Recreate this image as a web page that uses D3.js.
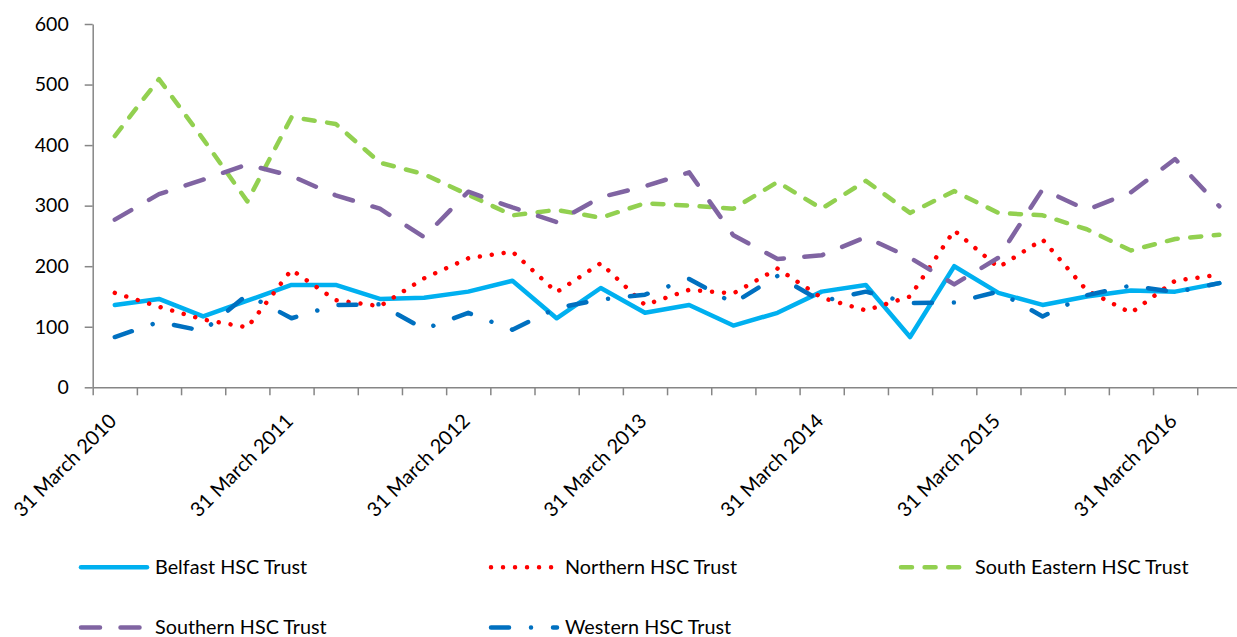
<!DOCTYPE html>
<html>
<head>
<meta charset="utf-8">
<script src="https://cdn.jsdelivr.net/npm/d3@7"></script>
<style>
  body { margin: 0; background: #fff; }
  svg { display: block; font-family: Lato, "Open Sans", sans-serif; }
</style>
</head>
<body>
<svg id="chart" width="1237" height="637"></svg>
<script>
// quarter ends, 31 March 2010 .. 30 June 2016
const categories = [
  "31 March 2010", "30 June 2010", "30 September 2010", "31 December 2010",
  "31 March 2011", "30 June 2011", "30 September 2011", "31 December 2011",
  "31 March 2012", "30 June 2012", "30 September 2012", "31 December 2012",
  "31 March 2013", "30 June 2013", "30 September 2013", "31 December 2013",
  "31 March 2014", "30 June 2014", "30 September 2014", "31 December 2014",
  "31 March 2015", "30 June 2015", "30 September 2015", "31 December 2015",
  "31 March 2016", "30 June 2016"
];
const tickLabels = ["31 March 2010", "31 March 2011", "31 March 2012", "31 March 2013",
  "31 March 2014", "31 March 2015", "31 March 2016"];
const yTicks = [0, 100, 200, 300, 400, 500, 600];

const seriesNames = ["Belfast HSC Trust", "Northern HSC Trust", "South Eastern HSC Trust",
  "Southern HSC Trust", "Western HSC Trust"];
const belfast = [136, 146, 117, 143, 169, 169, 146, 148, 158, 176, 114, 164, 123,
  136, 102, 123, 158, 169, 83, 200, 156, 136, 150, 160, 158, 172];
const northern = [156, 133, 112, 99, 194, 144, 134, 180, 213, 224, 157, 205, 136,
  161, 155, 196, 148, 127, 150, 259, 198, 244, 160, 123, 176, 186];
const southEastern = [415, 509, 410, 307, 446, 435, 371, 352, 318, 284, 293, 280, 304,
  300, 295, 339, 295, 341, 288, 324, 288, 284, 261, 226, 245, 252];
const southern = [277, 319, 343, 368, 349, 317, 295, 248, 323, 297, 273, 314, 332,
  355, 251, 212, 218, 248, 214, 170, 214, 327, 293, 322, 377, 299];
const western = [83, 108, 93, 153, 114, 136, 137, 96, 123, 95, 131, 145, 153,
  179, 139, 184, 142, 158, 139, 140, 158, 117, 152, 168, 157, 172];

const svg = d3.select("#chart");
const plot = { left: 92.7, right: 1241.4, top: 24, bottom: 387.3 };

const x = d3.scaleBand().domain(categories).range([plot.left, plot.right]).padding(0);
const xEdge = d3.scaleLinear().domain([0, categories.length]).range([plot.left, plot.right]);
const y = d3.scaleLinear().domain([0, 600]).range([plot.bottom, plot.top]);

const axisColor = "#868686";

// y axis
const yAxis = svg.append("g")
  .attr("transform", `translate(${plot.left},0)`)
  .call(d3.axisLeft(y).tickValues(yTicks).tickSize(8).tickPadding(16).tickSizeOuter(0));
yAxis.selectAll("path, line").attr("stroke", axisColor).attr("stroke-width", 1.5);
yAxis.selectAll("text").attr("font-size", 19.5).attr("fill", "#000")
  .attr("font-family", "Lato, sans-serif");

// x axis: tick marks between categories
const xAxis = svg.append("g")
  .attr("transform", `translate(0,${plot.bottom})`)
  .call(d3.axisBottom(xEdge).tickValues(d3.range(categories.length + 1))
    .tickFormat("").tickSize(8).tickSizeOuter(0));
xAxis.selectAll("path, line").attr("stroke", axisColor).attr("stroke-width", 1.5);

// rotated category labels
svg.append("g").selectAll("text").data(tickLabels).enter().append("text")
  .attr("transform", d => `translate(${x(d) + x.bandwidth() / 2 + 3},${plot.bottom + 35}) rotate(-45)`)
  .attr("text-anchor", "end")
  .attr("font-size", 20)
  .attr("fill", "#000")
  .text(d => d);

const styles = [
  { color: "#00B0F0", dash: null },
  { color: "#FF0000", dash: "0.01 12" },
  { color: "#92D050", dash: "11 12.6" },
  { color: "#8064A2", dash: "19 20.5" },
  { color: "#0070C0", dash: "18 22 0.01 22" }
];
const allSeries = [belfast, northern, southEastern, southern, western];

const line = d3.line()
  .x((d, i) => x(categories[i]) + x.bandwidth() / 2)
  .y(d => y(d));

svg.append("g").selectAll("path").data(allSeries).enter().append("path")
  .attr("d", line)
  .attr("fill", "none")
  .attr("stroke", (d, i) => styles[i].color)
  .attr("stroke-width", 4.5)
  .attr("stroke-linecap", "round")
  .attr("stroke-linejoin", "round")
  .attr("stroke-dasharray", (d, i) => styles[i].dash);

// legend
const legendPos = [
  { tx: 155, ty: 567.3 }, { tx: 565, ty: 567.3 }, { tx: 975, ty: 567.3 },
  { tx: 155, ty: 627.5 }, { tx: 565, ty: 627.5 }
];
const legend = svg.append("g").selectAll("g").data(seriesNames).enter().append("g");
legend.append("line")
  .attr("x1", (d, i) => legendPos[i].tx - 74)
  .attr("x2", (d, i) => legendPos[i].tx - 8)
  .attr("y1", (d, i) => legendPos[i].ty)
  .attr("y2", (d, i) => legendPos[i].ty)
  .attr("stroke", (d, i) => styles[i].color)
  .attr("stroke-width", 4.5)
  .attr("stroke-linecap", "round")
  .attr("stroke-dasharray", (d, i) => styles[i].dash);
legend.append("text")
  .attr("x", (d, i) => legendPos[i].tx)
  .attr("y", (d, i) => legendPos[i].ty)
  .attr("dy", "0.35em")
  .attr("font-size", 19.8)
  .attr("fill", "#000")
  .text(d => d);
</script>
</body>
</html>
